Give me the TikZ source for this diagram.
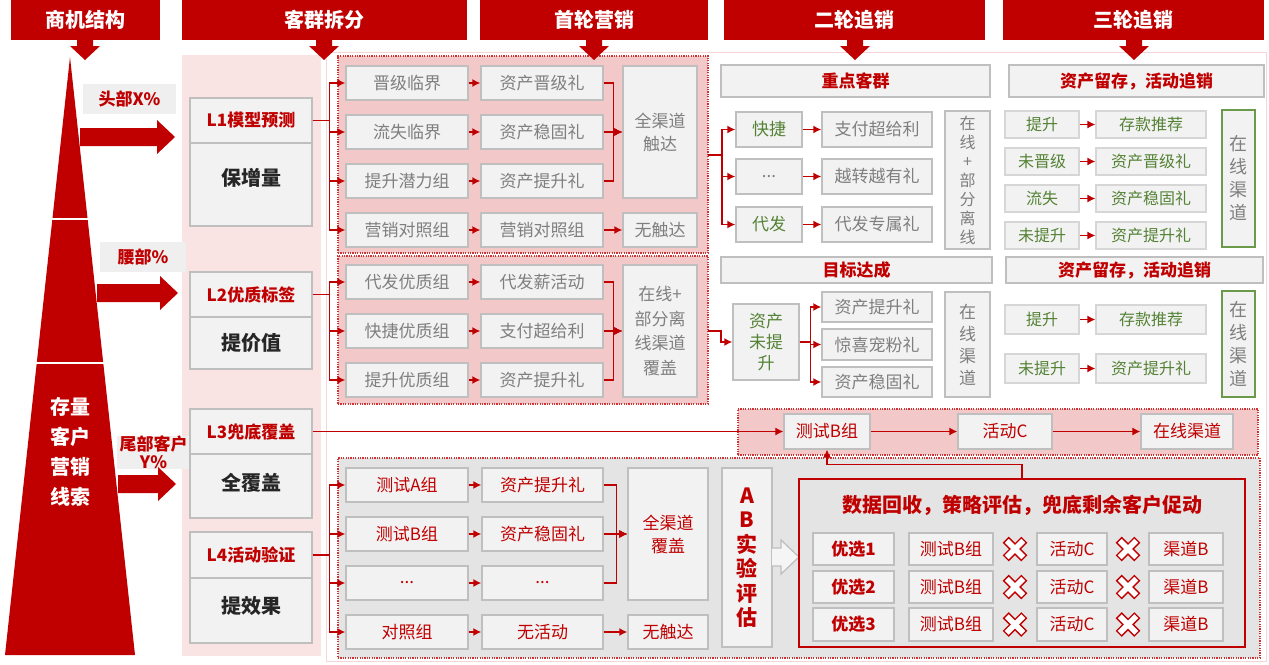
\documentclass[tikz,border=0pt]{standalone}
\usepackage{fontspec}
\setmainfont{Noto Sans CJK SC}
\usetikzlibrary{arrows.meta,calc}
\definecolor{hred}{HTML}{C00000}
\definecolor{bfill}{HTML}{F2F2F2}
\definecolor{bline}{HTML}{BFBFBF}
\definecolor{bline2}{HTML}{D6D6D6}
\definecolor{tgray}{HTML}{7F7F7F}
\definecolor{tgreen}{HTML}{548235}
\definecolor{gborder}{HTML}{6A9A4A}
\definecolor{regpink}{HTML}{F2C8C8}
\definecolor{reggray}{HTML}{E4E4E4}
\definecolor{panelpink}{HTML}{F9E3E3}
\definecolor{labfill}{HTML}{EFEFEF}
\definecolor{frm}{HTML}{F5D5D5}
\definecolor{darktext}{HTML}{262626}
\newcommand\setfs[2]{\fontsize{#1}{#2}\selectfont}
\newcommand\mybox[7]{%
  \pgfmathsetmacro\bxw{#4-#2}\pgfmathsetmacro\bxh{#5-#3}%
  \pgfmathsetmacro\bxcx{(#2+#4)/2}\pgfmathsetmacro\bxcy{(#3+#5)/2}%
  \node[#6, minimum width=\bxw pt, minimum height=\bxh pt] (#1) at (\bxcx,\bxcy) {#7};}
\newcommand\downarr[1]{\fill[hred] (#1-8,39) -- (#1+8,39) -- (#1+8,46) -- (#1+15,46) -- (#1,60) -- (#1-15,46) -- (#1-8,46) -- cycle;}
\newcommand\blockarr[4]{\fill[hred] (#1,#4-9) -- (#3,#4-9) -- (#3,#4-17) -- (#2,#4) -- (#3,#4+17) -- (#3,#4+9) -- (#1,#4+9) -- cycle;}
\newcommand\redcross[2]{\begin{scope}[shift={(#1,#2)}, rotate=45]
  \draw[hred, fill=white, line width=1.3pt] (-3.6,-12.5) -- (3.6,-12.5) -- (3.6,-3.6) -- (12.5,-3.6) -- (12.5,3.6) -- (3.6,3.6) -- (3.6,12.5) -- (-3.6,12.5) -- (-3.6,3.6) -- (-12.5,3.6) -- (-12.5,-3.6) -- (-3.6,-3.6) -- cycle;
  \end{scope}}
\tikzset{
  bx/.style={draw=bline, line width=1.4pt, fill=bfill, inner sep=0pt, align=center},
  hdr/.style={fill=hred, text=white, font=\bfseries\setfs{20}{24}, inner sep=0pt},
  grayt/.style={bx, text=tgray, font=\setfs{17}{23}},
  greent/.style={bx, text=tgreen, font=\setfs{17}{21}},
  tgrn/.style={bx, draw=bline2, line width=1.2pt, text=tgreen, font=\setfs{16}{20}},
  redt/.style={bx, text=hred, font=\setfs{17}{23}},
  redb/.style={bx, text=hred, font=\bfseries\setfs{17}{20}},
  hbox/.style={bx, text=hred, font=\bfseries\setfs{17}{20}},
  ltitle/.style={bx, text=hred, font=\bfseries\setfs{17}{20}},
  lbody/.style={bx, text=darktext, font=\bfseries\setfs{20}{24}},
  labs/.style={fill=labfill, text=hred, font=\bfseries\setfs{17}{18}, inner sep=0pt, align=center},
  reg/.style={draw=hred!80, line width=1.2pt, dash pattern=on 1.2pt off 1.2pt, inner sep=0pt},
  ar/.style={draw=hred, line width=1.4pt, -{Latex[length=8pt,width=8pt]}},
}
\begin{document}
\begin{tikzpicture}[x=1pt,y=-1pt]
\fill[white] (0,0) rectangle (1269,664);
\useasboundingbox (0,0) rectangle (1269,664);
% frame and left panel
\draw[frm, line width=1pt] (326,52) rectangle (1266,661);
\fill[panelpink] (182,55) rectangle (321,656);
% headers
\mybox{h1}{11}{0}{160}{40}{hdr}{商机结构}
\mybox{h2}{182}{0}{467}{40}{hdr}{客群拆分}
\mybox{h3}{480}{0}{708}{40}{hdr}{首轮营销}
\mybox{h4}{724}{0}{985}{40}{hdr}{二轮追销}
\mybox{h5}{1003}{0}{1264}{40}{hdr}{三轮追销}
% pyramid
\fill[hred] (70,57) -- (135,655) -- (5,655) -- cycle;
\draw[white, line width=2.5pt] (40,219) -- (100,219);
\draw[white, line width=2.5pt] (25,363) -- (115,363);
\node[font=\bfseries\setfs{20}{30}, text=white, align=center] (pyt) at (70,452) {存量\\客户\\营销\\线索};
% labels and block arrows
\mybox{lb1}{83}{84}{176}{114}{labs}{头部X\%}
\mybox{lb2}{100}{242}{186}{272}{labs}{腰部\%}
\mybox{lb3}{117}{437}{190}{467}{labs}{尾部客户\\Y\%}
\blockarr{80}{175}{157}{137}
\blockarr{97}{178}{160}{293}
\blockarr{118}{176}{158}{484}
% L boxes
\mybox{L1t}{190}{98}{312}{143}{ltitle}{L1模型预测}
\mybox{L1b}{190}{143}{312}{226}{lbody}{}
\node[text=darktext, font=\bfseries\setfs{20}{24}] (L1bt) at (251,178) {保增量};
\mybox{L2t}{190}{272}{312}{317}{ltitle}{L2优质标签}
\mybox{L2b}{190}{317}{312}{369}{lbody}{提价值}
\mybox{L3t}{190}{409}{312}{454}{ltitle}{L3兜底覆盖}
\mybox{L3b}{190}{454}{312}{518}{lbody}{}
\node[text=darktext, font=\bfseries\setfs{20}{24}] (L3bt) at (251,483) {全覆盖};
\mybox{L4t}{190}{532}{312}{578}{ltitle}{L4活动验证}
\mybox{L4b}{190}{578}{312}{643}{lbody}{}
\node[text=darktext, font=\bfseries\setfs{20}{24}] (L4bt) at (251,606) {提效果};
% region 1
\mybox{reg1}{338}{56}{708}{253}{reg, fill=regpink}{}
\mybox{a1}{346}{66}{468}{100}{grayt}{晋级临界}
\mybox{b1}{481}{66}{603}{100}{grayt}{资产晋级礼}
\mybox{a2}{346}{115}{468}{149}{grayt}{流失临界}
\mybox{b2}{481}{115}{603}{149}{grayt}{资产稳固礼}
\mybox{a3}{346}{164}{468}{198}{grayt}{提升潜力组}
\mybox{b3}{481}{164}{603}{198}{grayt}{资产提升礼}
\mybox{a4}{346}{213}{468}{247}{grayt}{营销对照组}
\mybox{b4}{481}{213}{603}{247}{grayt}{营销对照组}
\mybox{c1}{623}{66}{697}{198}{grayt}{全渠道\\触达}
\mybox{c4}{623}{213}{697}{247}{grayt}{无触达}
% region 2
\mybox{reg2}{338}{256}{708}{404}{reg, fill=regpink}{}
\mybox{d1}{346}{265}{468}{299}{grayt}{代发优质组}
\mybox{e1}{481}{265}{603}{299}{grayt}{代发薪活动}
\mybox{d2}{346}{314}{468}{348}{grayt}{快捷优质组}
\mybox{e2}{481}{314}{603}{348}{grayt}{支付超给利}
\mybox{d3}{346}{363}{468}{397}{grayt}{提升优质组}
\mybox{e3}{481}{363}{603}{397}{grayt}{资产提升礼}
\mybox{f1}{623}{265}{697}{397}{grayt, font=\setfs{17}{24.5}}{在线+\\部分离\\线渠道\\覆盖}
% region 3
\mybox{reg3}{738}{409}{1258}{455}{reg, fill=regpink}{}
\mybox{tb}{784}{414}{870}{449}{redt}{测试B组}
\mybox{tc}{958}{414}{1052}{449}{redt}{活动C}
\mybox{td}{1141}{414}{1233}{449}{redt}{在线渠道}
% region 4
\mybox{reg4}{338}{458}{1260}{658}{reg, fill=reggray}{}
\mybox{p1}{346}{468}{468}{502}{redt}{测试A组}
\mybox{q1}{482}{468}{603}{502}{redt}{资产提升礼}
\mybox{p2}{346}{517}{468}{551}{redt}{测试B组}
\mybox{q2}{482}{517}{603}{551}{redt}{资产稳固礼}
\mybox{p3}{346}{566}{468}{600}{redt}{...}
\mybox{q3}{482}{566}{603}{600}{redt}{...}
\mybox{p4}{346}{615}{468}{649}{redt}{对照组}
\mybox{q4}{482}{615}{603}{649}{redt}{无活动}
\mybox{r1}{628}{468}{708}{600}{redt}{全渠道\\覆盖}
\mybox{r4}{628}{615}{708}{649}{redt}{无触达}
\mybox{ab}{722}{468}{772}{647}{bx, text=hred, font=\bfseries\setfs{21}{24.5}}{A\\B\\实\\验\\评\\估}
\draw[bline, fill=white!96!black, line width=1.3pt] (772,548) -- (781,548) -- (781,540) -- (799,557) -- (781,574) -- (781,566) -- (772,566);
\mybox{rb}{799}{479}{1245}{647}{draw=hred, line width=1.5pt, inner sep=0pt}{}
\node[text=hred, font=\bfseries\setfs{20}{24}] (rbt) at (1022,505) {数据回收，策略评估，兜底剩余客户促动};
\foreach \i/\ya/\yb in {1/533/565, 2/571/603, 3/608/641}{
  \mybox{s\i}{813}{\ya}{894}{\yb}{redb}{优选\i}
  \mybox{t\i}{909}{\ya}{993}{\yb}{redt}{测试B组}
  \mybox{u\i}{1037}{\ya}{1107}{\yb}{redt}{活动C}
  \mybox{v\i}{1149}{\ya}{1223}{\yb}{redt}{渠道B}
  \pgfmathsetmacro\ycr{(\ya+\yb)/2}
  \redcross{1015}{\ycr}
  \redcross{1128}{\ycr}
}
% second round
\mybox{k0}{721}{65}{990}{97}{hbox}{重点客群}
\mybox{k1}{736}{112}{802}{147}{greent}{快捷}
\mybox{k2}{736}{159}{802}{194}{grayt}{...}
\mybox{k3}{736}{207}{802}{242}{greent}{代发}
\mybox{m1}{822}{112}{932}{147}{grayt}{支付超给利}
\mybox{m2}{822}{159}{932}{194}{grayt}{越转越有礼}
\mybox{m3}{822}{207}{932}{242}{grayt}{代发专属礼}
\mybox{kv}{945}{111}{990}{249}{grayt, font=\setfs{16}{19}}{在\\线\\+\\部\\分\\离\\线}
\mybox{n0}{721}{257}{992}{283}{hbox}{目标达成}
\mybox{zw}{733}{304}{799}{380}{greent}{资产\\未提\\升}
\mybox{g1}{822}{292}{932}{322}{grayt}{资产提升礼}
\mybox{g2}{822}{329}{932}{360}{grayt}{惊喜宠粉礼}
\mybox{g3}{822}{367}{932}{397}{grayt}{资产稳固礼}
\mybox{gv}{945}{292}{990}{397}{grayt, font=\setfs{17}{22}}{在\\线\\渠\\道}
% third round
\mybox{w0}{1009}{65}{1264}{97}{hbox}{资产留存，活动追销}
\mybox{tl1}{1005}{111}{1079}{138}{tgrn}{提升}
\mybox{tr1}{1096}{111}{1206}{138}{tgrn}{存款推荐}
\mybox{tl2}{1005}{148}{1079}{175}{tgrn}{未晋级}
\mybox{tr2}{1096}{148}{1206}{175}{tgrn}{资产晋级礼}
\mybox{tl3}{1005}{185}{1079}{212}{tgrn}{流失}
\mybox{tr3}{1096}{185}{1206}{212}{tgrn}{资产稳固礼}
\mybox{tl4}{1005}{222}{1079}{249}{tgrn}{未提升}
\mybox{tr4}{1096}{222}{1206}{249}{tgrn}{资产提升礼}
\mybox{xv1}{1222}{110}{1255}{247}{bx, draw=gborder, text=tgray, font=\setfs{18}{23}}{在\\线\\渠\\道}
\mybox{w2}{1006}{257}{1263}{283}{hbox}{资产留存，活动追销}
\mybox{tl5}{1005}{305}{1079}{334}{tgrn}{提升}
\mybox{tr5}{1096}{305}{1206}{334}{tgrn}{存款推荐}
\mybox{tl6}{1005}{354}{1079}{383}{tgrn}{未提升}
\mybox{tr6}{1096}{354}{1206}{383}{tgrn}{资产提升礼}
\mybox{xv2}{1222}{291}{1255}{397}{bx, draw=gborder, text=tgray, font=\setfs{18}{23}}{在\\线\\渠\\道}
% header arrows
\downarr{85}\downarr{324}\downarr{594}\downarr{855}\downarr{1134}
% connectors region 1
\foreach \i in {1,2,3,4}{
  \draw[ar] (L1t.east) -- ++(17,0) |- (a\i.west);
  \draw[ar] (a\i) -- (b\i);
}
\foreach \i in {1,2,3}{\draw[ar] (b\i.east) -- ++(10,0) |- (c1.west);}
\draw[ar] (b4) -- (c4);
% region 2
\foreach \i in {1,2,3}{
  \draw[ar] (L2t.east) -- ++(17,0) |- (d\i.west);
  \draw[ar] (d\i) -- (e\i);
  \draw[ar] (e\i.east) -- ++(10,0) |- (f1.west);
}
% region 4
\foreach \i in {1,2,3,4}{
  \draw[ar] (L4t.east) -- ++(17,0) |- (p\i.west);
  \draw[ar] (p\i) -- (q\i);
}
\foreach \i in {1,2,3}{\draw[ar] (q\i.east) -- ++(13,0) |- (r1.west);}
\draw[ar] (q4) -- (r4);
% L3 row
\draw[ar, line width=1.1pt] (L3t) -- (tb);
\draw[ar, line width=1.1pt] (tb) -- (tc);
\draw[ar, line width=1.1pt] (tc) -- (td);
\draw[ar, line width=1.1pt] (rb.north) -- ++(0,-14) -| (tb.south);
% second round
\coordinate (o1) at (708,155);
\foreach \i in {1,2,3}{
  \draw[ar] (o1) -- ++(14,0) |- (k\i.west);
  \draw[ar] (k\i) -- (m\i);
}
\coordinate (o2) at (708,331);
\draw[ar] (o2) -- ++(13,0) |- (zw.west);
\foreach \i in {1,2,3}{\draw[ar] (zw.east) -- ++(11,0) |- (g\i.west);}
% third round
\foreach \i in {1,...,6}{\draw[ar] (tl\i) -- (tr\i);}
\end{tikzpicture}
\end{document}
